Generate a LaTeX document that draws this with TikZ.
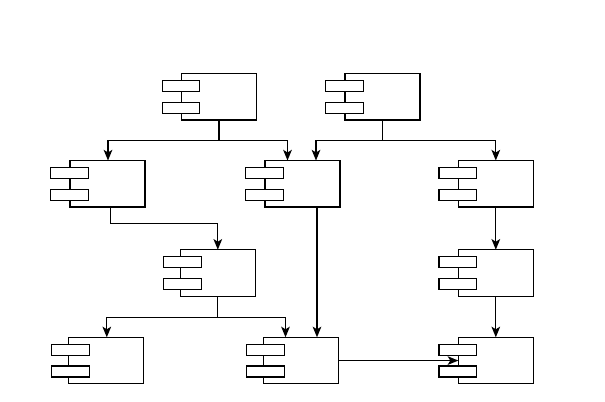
\documentclass[tikz,border=0pt]{standalone}
\usetikzlibrary{arrows.meta,calc}
\tikzset{
  compbox/.style={draw=black, line width=0.9pt, fill=white, inner sep=0pt, outer sep=0pt,
    minimum width=56.25pt, minimum height=34.875pt, anchor=north west},
  portbox/.style={draw=black, line width=0.9pt, fill=white, inner sep=0pt, outer sep=0pt,
    minimum width=28.2pt, minimum height=8.25pt, anchor=north west},
  conn/.style={draw=black, line width=1pt},
  arr/.style={conn, -{Stealth[length=8pt,width=6.5pt,inset=2pt]}}
}
% #1 name, #2 x, #3 y, #4 left offset of ports
\newcommand{\compnode}[4]{%
  \node[compbox] (#1) at (#2,#3) {};
  \node[portbox] (#1p1) at ($(#1.north west)+(-#4,7)$) {};
  \node[portbox] (#1p2) at ($(#1.north west)+(-#4,28.7)$) {};
}
\begin{document}
\begin{tikzpicture}[x=0.75pt,y=-0.75pt]
\useasboundingbox (0,0) rectangle (605,401);
\compnode{A}{181.5}{73.5}{19.3}
\compnode{B}{345}{73.5}{19.3}
\compnode{C}{70}{160.5}{19.3}
\compnode{D}{265}{160.5}{19.3}
\compnode{E}{458.3}{160.5}{19.3}
\compnode{F}{180.3}{249.7}{16.7}
\compnode{G}{458.3}{249.7}{19.3}
\compnode{H}{68.3}{337.3}{16.7}
\compnode{I}{263.5}{337.3}{16.7}
\compnode{J}{458.3}{337.3}{19.3}
% connectors
\draw[arr] (A.south) -- ++(0,20.7) -| ($(C.north)+(0.5,0)$);
\draw[arr] (A.south) -- ++(0,20.7) -| ($(D.north)+(-15,0)$);
\draw[arr] (B.south) -- ++(0,20.2) -| ($(D.north)+(13.5,0)$);
\draw[arr] (B.south) -- ++(0,20.2) -| (E.north);
\draw[arr] ($(C.south)+(3,0)$) -- ++(0,16.8) -| (F.north);
\coordinate (d1) at ($(D.south)+(14.5,0)$);
\draw[arr] (d1) -- (d1 |- I.north);
\draw[arr] (F.south) -- ++(0,21.5) -| ($(H.north)+(1,0)$);
\draw[arr] (F.south) -- ++(0,21.5) -| ($(I.north)+(-15.5,0)$);
\draw[arr] (E.south) -- (G.north);
\draw[arr] (G.south) -- (J.north);
\draw[arr] (I.east) -- (J.west);
\end{tikzpicture}
\end{document}
